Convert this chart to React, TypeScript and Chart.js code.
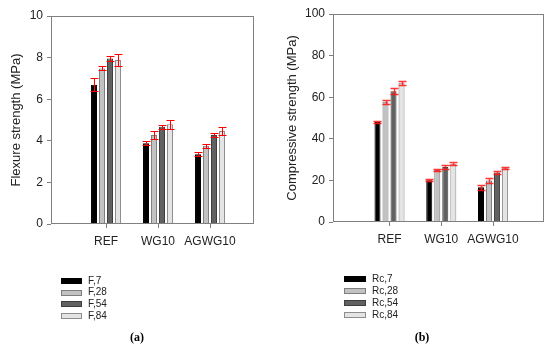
import React, { useEffect, useRef } from 'react';
import { Chart, registerables } from 'chart.js';

Chart.register(...registerables);

// ---------- data ----------
const categories = ['REF', 'WG10', 'AGWG10'];
const categoryPositions = [1, 2, 3];

const flexSeriesLabels = ['F,7', 'F,28', 'F,54', 'F,84'];
const flex7 = [6.7, 3.88, 3.35];
const flex28 = [7.48, 4.28, 3.76];
const flex54 = [7.96, 4.68, 4.28];
const flex84 = [7.88, 4.79, 4.47];
const flexErr7 = [0.3, 0.1, 0.1];
const flexErr28 = [0.1, 0.2, 0.1];
const flexErr54 = [0.1, 0.1, 0.1];
const flexErr84 = [0.3, 0.2, 0.2];

const compSeriesLabels = ['Rc,7', 'Rc,28', 'Rc,54', 'Rc,84'];
const comp7 = [48.1, 20.1, 16.7];
const comp28 = [57.8, 25.0, 19.9];
const comp54 = [62.9, 26.4, 23.8];
const comp84 = [66.9, 28.0, 25.9];
const compErr7 = [0.5, 0.5, 1.3];
const compErr28 = [1.0, 0.5, 1.3];
const compErr54 = [1.5, 0.8, 0.5];
const compErr84 = [1.0, 0.8, 0.5];

const fillColors = ['#000000', '#c2c2c2', '#616161', '#e4e4e4'];
const edgeColors = ['#000000', '#7e7e7e', '#3e3e3e', '#8e8e8e'];

Chart.defaults.font.family = '"Liberation Sans", Arial, sans-serif';

const decorPlugin = {
  id: 'decor',
  afterDatasetsDraw(chart: any, _args: any, opts: any) {
    const ctx = chart.ctx;
    const ys = chart.scales.y;
    ctx.save();
    ctx.strokeStyle = opts.errColor;
    ctx.lineWidth = opts.errWidth;
    chart.data.datasets.forEach((ds: any, di: number) => {
      const meta = chart.getDatasetMeta(di);
      meta.data.forEach((bar: any, i: number) => {
        const v = ds.data[i].y;
        const e = ds.errors[i];
        const x = Math.round(bar.x) + 0.5;
        const yt = Math.round(ys.getPixelForValue(v + e)) + 0.5;
        const yb = Math.round(ys.getPixelForValue(v - e)) + 0.5;
        ctx.beginPath();
        ctx.moveTo(x, yt);
        ctx.lineTo(x, yb);
        ctx.moveTo(x - 4, yt);
        ctx.lineTo(x + 4, yt);
        ctx.moveTo(x - 4, yb);
        ctx.lineTo(x + 4, yb);
        ctx.stroke();
      });
    });
    ctx.restore();
  },
  afterDraw(chart: any, _args: any, opts: any) {
    const ctx = chart.ctx;
    const a = chart.chartArea;
    ctx.save();
    // frame
    ctx.strokeStyle = '#808080';
    ctx.lineWidth = 1;
    const l = Math.round(a.left) + 0.5;
    const t = Math.round(a.top) + 0.5;
    const r = Math.round(a.right) - 0.5;
    const b = Math.round(a.bottom) - 0.5;
    ctx.strokeRect(l, t, r - l, b - t);
    // legend
    const lg = opts.legend;
    ctx.font = '10px "Liberation Sans", Arial, sans-serif';
    ctx.textBaseline = 'middle';
    ctx.textAlign = 'left';
    chart.data.datasets.forEach((ds: any, i: number) => {
      const cy = lg.y0 + i * lg.step;
      ctx.fillStyle = ds.backgroundColor;
      ctx.fillRect(lg.x, Math.round(cy - lg.h / 2), lg.w, lg.h);
      ctx.strokeStyle = ds.borderColor;
      ctx.strokeRect(lg.x + 0.5, Math.round(cy - lg.h / 2) + 0.5, lg.w - 1, lg.h - 1);
      ctx.fillStyle = '#222222';
      ctx.fillText(ds.label, lg.textX, cy);
    });
    // caption
    const cp = opts.caption;
    ctx.font = 'bold 12px "Liberation Serif", "Times New Roman", serif';
    ctx.textAlign = 'center';
    ctx.fillStyle = '#000000';
    ctx.fillText(cp.text, cp.x, cp.y);
    ctx.restore();
  },
};

function makeConfig(p: any) {
  const datasets = p.series.map((vals: number[], i: number) => ({
    label: p.seriesLabels[i],
    data: categoryPositions.map((x, j) => ({ x, y: vals[j] })),
    errors: p.errors[i],
    backgroundColor: fillColors[i],
    borderColor: edgeColors[i],
    borderWidth: 1,
    categoryPercentage: p.catPct,
    barPercentage: 0.75,
  }));
  return {
    type: 'bar',
    data: { datasets },
    plugins: [decorPlugin],
    options: {
      responsive: false,
      animation: false,
      layout: { padding: p.padding },
      plugins: {
        legend: { display: false },
        tooltip: { enabled: false },
        decor: {
          legend: p.legend,
          caption: p.caption,
          errColor: p.errColor,
          errWidth: p.errWidth,
        },
      },
      scales: {
        x: {
          type: 'linear',
          min: p.xMin,
          max: p.xMax,
          offset: false,
          grid: {
            display: true,
            drawOnChartArea: false,
            drawTicks: true,
            tickLength: 4,
            color: '#808080',
            offset: false,
          },
          border: { display: false },
          ticks: {
            autoSkip: false,
            maxRotation: 0,
            padding: 6,
            color: '#222222',
            font: { size: 12 },
            callback: (v: number) => {
              const k = categoryPositions.indexOf(v);
              return k >= 0 ? categories[k] : '';
            },
          },
          afterBuildTicks: (s: any) => {
            s.ticks = categoryPositions.map((v) => ({ value: v }));
          },
          afterFit: (s: any) => {
            s.height = p.xHeight;
          },
        },
        y: {
          min: 0,
          max: p.yMax,
          grid: {
            display: true,
            drawOnChartArea: false,
            drawTicks: true,
            tickLength: 4,
            color: '#808080',
          },
          border: { display: false },
          ticks: {
            stepSize: p.yStep,
            padding: 4,
            color: '#222222',
            font: { size: 12 },
          },
          title: {
            display: true,
            text: p.yTitle,
            color: '#222222',
            font: { size: 13 },
            padding: { top: p.titlePad, bottom: 0 },
          },
          afterFit: (s: any) => {
            s.width = p.yWidth;
          },
        },
      },
    },
  };
}

export default function App() {
  const leftRef = useRef<HTMLCanvasElement>(null);
  const rightRef = useRef<HTMLCanvasElement>(null);

  useEffect(() => {
    const c1 = new Chart(
      leftRef.current as HTMLCanvasElement,
      makeConfig({
        series: [flex7, flex28, flex54, flex84],
        errors: [flexErr7, flexErr28, flexErr54, flexErr84],
        seriesLabels: flexSeriesLabels,
        yMax: 10,
        yStep: 2,
        yTitle: 'Flexure strength (MPa)',
        titlePad: 9,
        yWidth: 51,
        xHeight: 121,
        padding: { left: 0, top: 16, right: 21, bottom: 0 },
        xMin: -0.058,
        xMax: 3.846,
        catPct: 0.615,
        errColor: '#ff0000',
        errWidth: 1,
        legend: { x: 61, w: 21, h: 6, textX: 88, y0: 281, step: 11.6 },
        caption: { text: '(a)', x: 137, y: 338 },
      }) as any
    );
    const c2 = new Chart(
      rightRef.current as HTMLCanvasElement,
      makeConfig({
        series: [comp7, comp28, comp54, comp84],
        errors: [compErr7, compErr28, compErr54, compErr84],
        seriesLabels: compSeriesLabels,
        yMax: 100,
        yStep: 20,
        yTitle: 'Compressive strength (MPa)',
        titlePad: 10,
        yWidth: 58,
        xHeight: 123,
        padding: { left: 0, top: 14, right: 6, bottom: 0 },
        xMin: -0.092,
        xMax: 3.985,
        catPct: 0.62,
        errColor: 'rgba(255,20,20,0.85)',
        errWidth: 1.5,
        legend: { x: 69, w: 22, h: 6, textX: 97, y0: 279, step: 12 },
        caption: { text: '(b)', x: 147, y: 338 },
      }) as any
    );
    return () => {
      c1.destroy();
      c2.destroy();
    };
  }, []);

  return (
    <div
      style={{
        position: 'fixed',
        left: 0,
        top: 0,
        width: 550,
        height: 345,
        background: '#ffffff',
      }}
    >
      <canvas
        ref={leftRef}
        width={275}
        height={345}
        style={{ position: 'absolute', left: 0, top: 0, width: 275, height: 345 }}
      />
      <canvas
        ref={rightRef}
        width={275}
        height={345}
        style={{ position: 'absolute', left: 275, top: 0, width: 275, height: 345 }}
      />
    </div>
  );
}
